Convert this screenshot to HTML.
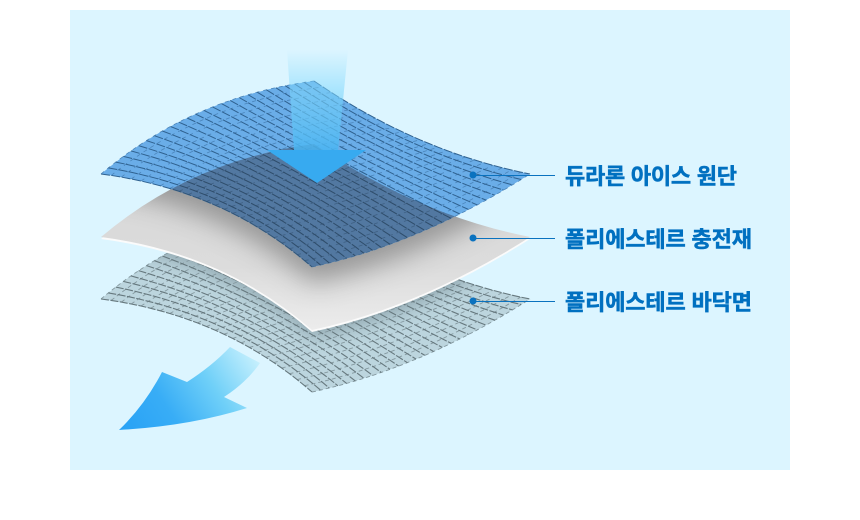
<!DOCTYPE html>
<html lang="ko"><head><meta charset="utf-8"><title>원단 구조</title>
<style>html,body{margin:0;padding:0;background:#fff}svg{display:block}
text{font-family:"Liberation Sans","Noto Sans CJK KR",sans-serif;font-weight:700;font-size:22px;fill:#0070c0;stroke:#0070c0;stroke-width:.5px}</style></head>
<body>
<svg xmlns="http://www.w3.org/2000/svg" width="860" height="520" viewBox="0 0 860 520">
<defs>
<linearGradient id="shaft" x1="0" y1="50" x2="0" y2="151" gradientUnits="userSpaceOnUse">
<stop offset="0" stop-color="#7fd8fc" stop-opacity="0"/><stop offset=".4" stop-color="#7fd8fc" stop-opacity=".55"/><stop offset="1" stop-color="#48b4f2" stop-opacity=".85"/></linearGradient>
<linearGradient id="low" x1="250" y1="350" x2="130" y2="430" gradientUnits="userSpaceOnUse">
<stop offset="0" stop-color="#c4effd"/><stop offset=".35" stop-color="#70d0f8"/><stop offset=".7" stop-color="#38adf6"/><stop offset="1" stop-color="#2aa3f5"/></linearGradient>
<linearGradient id="grey" x1="0" y1="190" x2="0" y2="330" gradientUnits="userSpaceOnUse">
<stop offset="0" stop-color="#d8d8d8"/><stop offset=".55" stop-color="#dcdcdc"/><stop offset="1" stop-color="#ececec"/></linearGradient>
<filter id="bl" x="-20%" y="-20%" width="140%" height="140%"><feGaussianBlur stdDeviation="13"/></filter>
<filter id="bl2" x="-20%" y="-20%" width="140%" height="140%"><feGaussianBlur stdDeviation="9"/></filter>
<clipPath id="c1"><path id="cp1"/></clipPath>
<clipPath id="c2"><path id="cp2"/></clipPath>
<clipPath id="c3"><path id="cp3"/></clipPath>
</defs>
<rect width="860" height="520" fill="#fff"/>
<rect x="70" y="10" width="720" height="460" fill="#dcf5ff"/>
<path d="M230 347Q212 366 187 382L162 372Q145 405 119 430Q190 426 247 408L224 397Q247 382 260 363Z" fill="url(#low)"/>
<path id="s3fill" fill="#b8d2da" opacity=".9"/>
<g clip-path="url(#c3)"><path id="shadow3" fill="#4d5f66" opacity=".4" filter="url(#bl2)"/></g>
<g id="s3"></g>
<path id="edge2" fill="#fbfbfb"/>
<path id="sheet2" fill="url(#grey)"/>
<g clip-path="url(#c2)"><path id="shadow" fill="#555" opacity=".5" filter="url(#bl)"/></g>
<path id="sheet1" fill="#6aade8"/>
<g id="s1"></g>
<g clip-path="url(#c1)"><path id="over" fill="#4f7196" opacity=".88"/></g>
<g clip-path="url(#c2)"><g id="s1d"></g></g>
<path d="M287 50H348L338 151H294Z" fill="url(#shaft)"/>
<path d="M267 150H366L317 183Z" fill="#37aaf0"/>
<g fill="#0a72bf" stroke="#0a72bf">
<circle cx="473" cy="175" r="3.5" stroke="none"/><path d="M473 175.5H555" fill="none"/>
<circle cx="473" cy="238" r="3.5" stroke="none"/><path d="M473 238.5H555" fill="none"/>
<circle cx="473" cy="301" r="3.5" stroke="none"/><path d="M473 301.5H555" fill="none"/>
</g>
<text x="565" y="184" textLength="172">듀라론 아이스 원단</text>
<text x="565" y="247" textLength="187">폴리에스테르 충전재</text>
<text x="565" y="310" textLength="187">폴리에스테르 바닥면</text>
</svg>
<script>
(function(){
function q(a,c,b,t){var s=1-t;return [s*s*a[0]+2*s*t*c[0]+t*t*b[0],s*s*a[1]+2*s*t*c[1]+t*t*b[1]];}
var L=[101,174],T=[314,81],R=[530,174],B=[312,267];
var cLT=[192,97],cTR=[418,152],cLB=[224,190],cBR=[420,244];
function P(u,v,dy){
  var a=q(L,cLT,T,u),b=q(B,cBR,R,u),c=q(L,cLB,B,v),d=q(T,cTR,R,v),o=[0,0];
  for(var i=0;i<2;i++){
    var bil=(1-u)*(1-v)*L[i]+u*(1-v)*T[i]+(1-u)*v*B[i]+u*v*R[i];
    o[i]=(1-v)*a[i]+v*b[i]+(1-u)*c[i]+u*d[i]-bil;
  }
  return [o[0].toFixed(1),(o[1]+dy).toFixed(1)];
}
function outline(dy){
  return "M"+L[0]+" "+(L[1]+dy)+"Q"+cLT[0]+" "+(cLT[1]+dy)+" "+T[0]+" "+(T[1]+dy)+"Q"+cTR[0]+" "+(cTR[1]+dy)+" "+R[0]+" "+(R[1]+dy)+"Q"+cBR[0]+" "+(cBR[1]+dy)+" "+B[0]+" "+(B[1]+dy)+"Q"+cLB[0]+" "+(cLB[1]+dy)+" "+L[0]+" "+(L[1]+dy)+"Z";
}
function mesh(dy,nU,nV,colA,colB,wA,wB,dashA,dashB){
  var a="",b="",i,j,p;
  for(i=0;i<=nU;i++){var u=i/nU;a+="M";for(j=0;j<=24;j++){p=P(u,j/24,dy);a+=(j?"L":"")+p[0]+" "+p[1];}}
  for(i=0;i<=nV;i++){var v=i/nV;b+="M";for(j=0;j<=24;j++){p=P(j/24,v,dy);b+=(j?"L":"")+p[0]+" "+p[1];}}
  return '<path d="'+b+'" fill="none" stroke="'+colB+'" stroke-width="'+wB+'" stroke-dasharray="'+dashB+'"/>'+
         '<path d="'+a+'" fill="none" stroke="'+colA+'" stroke-width="'+wA+'" stroke-dasharray="'+dashA+'"/>';
}
function set(id,d){document.getElementById(id).setAttribute("d",d);}
set("cp1",outline(0));set("cp2",outline(63));set("cp3",outline(125));
set("sheet1",outline(0));set("over",outline(63));
set("sheet2",outline(63));set("edge2",outline(65));
set("shadow",outline(16));set("s3fill",outline(125));set("shadow3",outline(70));
document.getElementById("s1").innerHTML=mesh(0,25,24,"#2f618f","#4a84ba",1,.8,"9 1.5","4 4");
document.getElementById("s1d").innerHTML='<g clip-path="url(#c1)">'+mesh(0,25,24,"#2f4d6b","#3f6084",1,.8,"9 1.5","4 4")+'</g>';
document.getElementById("s3").innerHTML=mesh(125,25,24,"#66787e","#84989f",1.1,.9,"8 1.5","4 3");
})();
</script>
</body></html>
